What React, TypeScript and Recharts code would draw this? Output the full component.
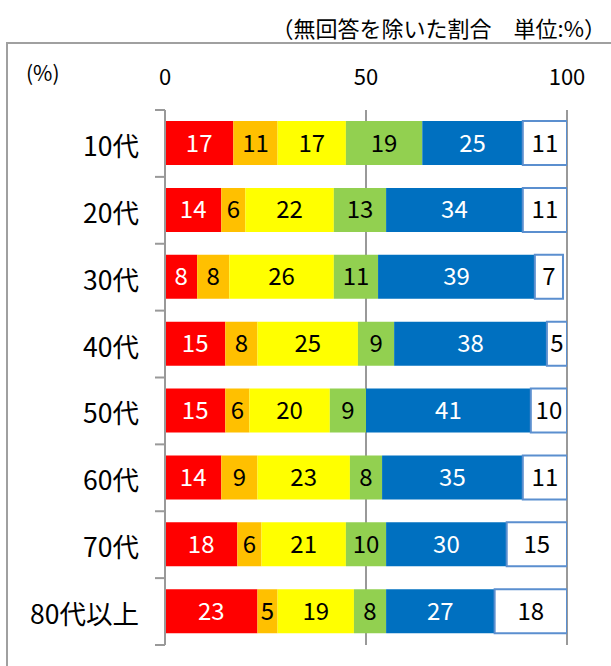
import { Bar, BarChart, CartesianGrid, LabelList, XAxis, YAxis } from "recharts";

const categories = ["10代", "20代", "30代", "40代", "50代", "60代", "70代", "80代以上"];
const red = [17, 14, 8, 15, 15, 14, 18, 23];
const orange = [11, 6, 8, 8, 6, 9, 6, 5];
const yellow = [17, 22, 26, 25, 20, 23, 21, 19];
const green = [19, 13, 11, 9, 9, 8, 10, 8];
const blue = [25, 34, 39, 38, 41, 35, 30, 27];
const white = [11, 11, 7, 5, 10, 11, 15, 18];
const xTicks = [0, 50, 100];

const data = categories.map((name, i) => ({
    name,
    s1: red[i],
    s2: orange[i],
    s3: yellow[i],
    s4: green[i],
    s5: blue[i],
    s6: white[i],
}));

const series = [
    { key: "s1", fill: "#FF0000", text: "#fff" },
    { key: "s2", fill: "#FFC000", text: "#000" },
    { key: "s3", fill: "#FFFF00", text: "#000" },
    { key: "s4", fill: "#92D050", text: "#000" },
    { key: "s5", fill: "#0070C0", text: "#fff" },
    { key: "s6", fill: "#FFFFFF", text: "#000", stroke: "#5B8FCF" },
];

const FONT = '"Noto Sans CJK JP", "Noto Sans", sans-serif';
const TOP = 110;
const BOTTOM = 21;
const HEIGHT = 666;
const band = (HEIGHT - TOP - BOTTOM) / categories.length;

const XTick = (props: any) => {
    const { x, payload } = props;
    return (
        <text x={x} y={TOP - 35} textAnchor="middle" dominantBaseline="central"
            fontSize={22} fontFamily={FONT} fill="#000">
            {payload.value}
        </text>
    );
};

const YTick = (props: any) => {
    const { y, payload, index } = props;
    const axisX = 165;
    return (
        <g>
            <line x1={axisX - 10} x2={axisX} y1={y - band / 2} y2={y - band / 2} stroke="#999" strokeWidth={2} />
            {index === categories.length - 1 && (
                <line x1={axisX - 10} x2={axisX} y1={y + band / 2} y2={y + band / 2} stroke="#999" strokeWidth={2} />
            )}
            <text x={139} y={y + 1} textAnchor="end" dominantBaseline="central"
                fontSize={26.5} fontFamily={FONT} fill="#000">
                {payload.value}
            </text>
        </g>
    );
};

const App = () => {
    return (
        <div style={{ position: "absolute", left: 0, top: 0, width: 611, height: 666, overflow: "hidden", background: "#fff", fontFamily: FONT }}>
            <div style={{ position: "absolute", left: 6, top: 42, width: 700, height: 700, border: "2px solid #a0a0a0" }} />
            <div style={{ position: "absolute", right: 5, top: 11, fontSize: 22, lineHeight: "32px", whiteSpace: "nowrap" }}>
                （無回答を除いた割合　単位:%）
            </div>
            <div style={{ position: "absolute", left: 26, top: 57, fontSize: 21, lineHeight: "30px" }}>
                (%)
            </div>
            <div style={{ position: "absolute", left: 0, top: 0 }}>
                <BarChart width={611} height={HEIGHT} data={data} layout="vertical" barSize={44}
                    margin={{ top: 0, right: 44, bottom: BOTTOM, left: 0 }}>
                    <CartesianGrid horizontal={false} vertical={true} stroke="#999" strokeWidth={2} />
                    <XAxis type="number" orientation="top" domain={[0, 100]} ticks={xTicks} allowDataOverflow
                        height={TOP} axisLine={false} tickLine={false} tick={<XTick />} />
                    <YAxis type="category" dataKey="name" width={165} axisLine={{ stroke: "#999", strokeWidth: 2 }}
                        tickLine={false} tick={<YTick />} interval={0} />
                    {series.map((s) => (
                        <Bar key={s.key} dataKey={s.key} stackId="a" fill={s.fill}
                            stroke={s.stroke ?? "none"} strokeWidth={s.stroke ? 2 : 0} isAnimationActive={false}>
                            <LabelList dataKey={s.key} position="center" fill={s.text} fontSize={24} fontFamily={FONT} />
                        </Bar>
                    ))}
                </BarChart>
            </div>
        </div>
    );
};

export default App;
